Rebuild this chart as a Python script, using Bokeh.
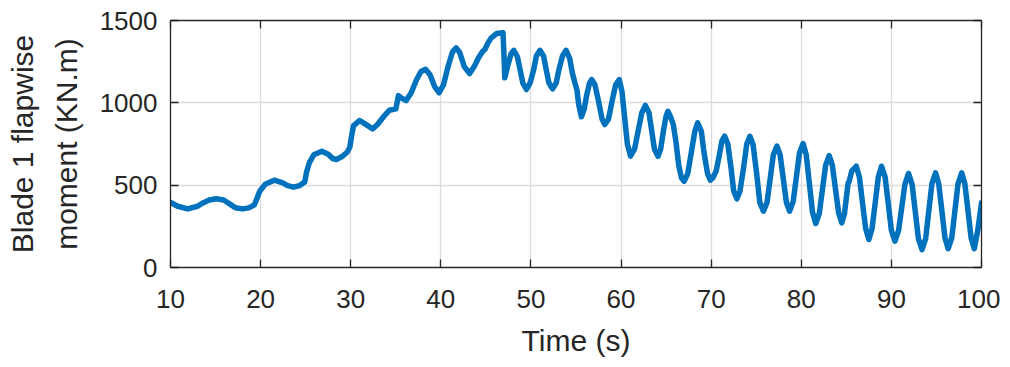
from bokeh.plotting import figure
from bokeh.models import Range1d, FixedTicker, LinearAxis
from bokeh.embed import file_html
from bokeh.resources import INLINE

# Time (s)
time_s = [
    10.0, 10.8, 11.9, 13.0, 13.6, 14.3, 15.1, 15.9, 16.6, 17.2, 18.0, 18.7, 19.3, 19.6, 19.9,
    20.5, 21.5, 22.4, 23.0, 23.65, 24.3, 24.9, 25.1, 25.4, 25.9, 26.8, 27.5, 28.0, 28.4, 29.0,
    29.6, 29.9, 30.1, 30.3, 31.0, 31.8, 32.45, 33.0, 33.7, 34.3, 35.0, 35.3, 35.6, 36.15, 36.7,
    37.3, 37.8, 38.3, 38.8, 39.3, 39.8, 40.3, 40.8, 41.3, 41.7, 42.1, 42.6, 43.2, 43.7, 44.2,
    44.65, 44.9, 45.3, 45.6, 46.2, 46.9, 47.0, 47.1, 47.4, 47.8, 48.1, 48.5, 48.8, 49.1, 49.5,
    49.9, 50.3, 50.6, 51.0, 51.4, 51.7, 52.0, 52.4, 52.8, 53.1, 53.5, 53.9, 54.3, 54.6, 54.9,
    55.1, 55.3, 55.6, 55.9, 56.2, 56.5, 56.75, 57.1, 57.5, 57.9, 58.2, 58.6, 59.0, 59.4, 59.8,
    60.1, 60.4, 60.7, 61.05, 61.5, 61.9, 62.3, 62.7, 63.1, 63.4, 63.7, 64.1, 64.4, 64.7, 65.0,
    65.2, 65.5, 65.8, 66.1, 66.4, 66.7, 67.0, 67.4, 67.8, 68.2, 68.5, 68.9, 69.2, 69.6, 69.9,
    70.2, 70.55, 70.9, 71.2, 71.5, 71.85, 72.2, 72.5, 72.85, 73.2, 73.6, 73.95, 74.3, 74.65, 75.05,
    75.4, 75.8, 76.2, 76.55, 76.9, 77.3, 77.65, 78.0, 78.35, 78.7, 79.1, 79.45, 79.8, 80.2, 80.55,
    80.9, 81.25, 81.6, 82.0, 82.35, 82.7, 83.1, 83.45, 83.8, 84.15, 84.5, 84.8, 85.2, 85.3, 85.6,
    86.1, 86.45, 86.8, 87.15, 87.5, 87.85, 88.2, 88.55, 88.9, 89.3, 89.65, 90.0, 90.4, 90.8, 91.15,
    91.5, 91.9, 92.3, 92.65, 93.0, 93.4, 93.8, 94.15, 94.5, 94.9, 95.25, 95.6, 95.95, 96.3, 96.7,
    97.05, 97.4, 97.8, 98.15, 98.5, 98.85, 99.2, 99.6, 100.0,
]

# Blade 1 flapwise moment (KN.m)
moment_knm = [
    396, 372, 356, 372, 392, 410, 417, 410, 385, 363, 356, 362, 380, 420, 463,
    505, 530, 516, 497, 488, 497, 520, 580, 635, 685, 706, 688, 662, 656, 672,
    700, 730, 800, 860, 893, 865, 842, 870, 920, 955, 963, 1044, 1030, 1014, 1060,
    1140, 1190, 1204, 1170, 1100, 1061, 1110, 1220, 1310, 1334, 1305, 1220, 1178, 1220, 1275,
    1313, 1325, 1370, 1395, 1421, 1425, 1300, 1152, 1220, 1300, 1319, 1280, 1200, 1120, 1081,
    1120, 1200, 1285, 1319, 1285, 1200, 1120, 1085, 1120, 1200, 1285, 1319, 1270, 1180, 1117,
    1080, 990, 915, 960, 1050, 1120, 1141, 1110, 1010, 900, 868, 900, 1010, 1110, 1141,
    1070, 910, 750, 676, 720, 830, 940, 984, 940, 830, 720, 676, 720, 830, 920,
    949, 915, 868, 760, 620, 545, 524, 570, 700, 830, 878, 830, 700, 570, 530,
    545, 585, 680, 770, 797, 750, 607, 465, 417, 465, 607, 750, 797, 745, 570,
    395, 342, 395, 540, 685, 737, 685, 540, 395, 342, 400, 548, 695, 753, 685,
    510, 335, 267, 328, 475, 620, 680, 620, 475, 330, 271, 330, 514, 520, 585,
    615, 550, 390, 235, 170, 235, 390, 550, 615, 550, 390, 225, 160, 225, 365,
    505, 571, 505, 340, 175, 109, 175, 342, 510, 575, 510, 345, 180, 114, 180,
    345, 510, 575, 510, 345, 180, 114, 230, 393,
]

x_ticks = [10, 20, 30, 40, 50, 60, 70, 80, 90, 100]
y_ticks = [0, 500, 1000, 1500]

FONT = "Liberation Sans"
AX = "#262626"

p = figure(width=1000, height=365, output_backend="svg", toolbar_location=None,
           x_range=Range1d(10, 100), y_range=Range1d(0, 1500),
           min_border_left=170, min_border_right=19, min_border_top=20,
           min_border_bottom=98, x_axis_label="Time (s)",
           y_axis_label="moment (KN.m)")
p.outline_line_color = None
p.background_fill_color = "white"
p.border_fill_color = "white"

p.line(time_s, moment_knm, line_color="#0072BD", line_width=5.5, line_join="round",
       line_cap="round")

for ax, ticks in ((p.xaxis[0], x_ticks), (p.yaxis[0], y_ticks)):
    ax.ticker = FixedTicker(ticks=ticks)
    ax.major_tick_in = 8
    ax.major_tick_out = 0
    ax.minor_tick_line_color = None
    ax.axis_line_color = AX
    ax.axis_line_width = 1.3
    ax.major_tick_line_color = AX
    ax.major_tick_line_width = 1.3
    ax.major_label_text_font = FONT
    ax.major_label_text_font_size = "26px"
    ax.major_label_text_color = AX
    ax.axis_label_text_font = FONT
    ax.axis_label_text_font_size = "30px"
    ax.axis_label_text_font_style = "normal"
    ax.axis_label_text_color = AX

p.xaxis[0].major_label_standoff = 22
p.xaxis[0].axis_label_standoff = 13
p.yaxis[0].major_label_standoff = 13
p.yaxis[0].axis_label_standoff = 14

# outer line of the two-line y label
outer = LinearAxis(ticker=FixedTicker(ticks=[]), axis_line_color=None,
                   major_tick_line_color=None, minor_tick_line_color=None,
                   major_label_text_font_size="1px", major_label_standoff=0,
                   axis_label="Blade 1 flapwise", axis_label_text_font=FONT,
                   axis_label_text_font_size="30px", axis_label_text_font_style="normal",
                   axis_label_text_color=AX, axis_label_standoff=8)
p.add_layout(outer, "left")

# box (top / right) with inward ticks
for side, ticks in (("above", x_ticks), ("right", y_ticks)):
    b = LinearAxis(ticker=FixedTicker(ticks=ticks), axis_line_color=AX, axis_line_width=1.3,
                   major_tick_line_color=AX, major_tick_line_width=1.3,
                   major_tick_in=8, major_tick_out=0, minor_tick_line_color=None,
                   major_label_text_font_size="1px", major_label_text_color=None,
                   major_label_standoff=0)
    p.add_layout(b, side)

p.xgrid.ticker = FixedTicker(ticks=x_ticks)
p.ygrid.ticker = FixedTicker(ticks=y_ticks)
for g in (p.xgrid[0], p.ygrid[0]):
    g.grid_line_color = "#dcdcdc"
    g.grid_line_width = 1.3

open("out.html", "w").write(file_html(p, INLINE))
